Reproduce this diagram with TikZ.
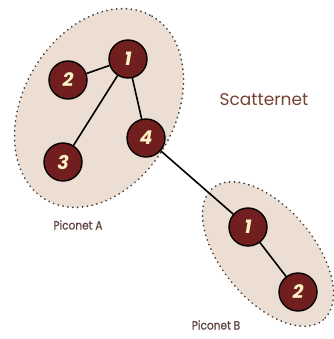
\documentclass[tikz,border=0pt]{standalone}
\usepackage{fontspec}
\setmainfont{Poppins}
\definecolor{netfill}{RGB}{236,222,211}
\definecolor{nodefill}{RGB}{112,30,30}
\definecolor{numcol}{RGB}{250,240,195}
\definecolor{labelcol}{RGB}{96,70,64}
\definecolor{titlecol}{RGB}{120,66,50}
\tikzset{
  piconet/.style={fill=netfill, draw=black!75, line width=1.9pt,
    dash pattern=on 0.1pt off 4.8pt, line cap=round},
  device/.style={circle, draw=black, line width=1.4pt, fill=nodefill,
    minimum size=38pt, inner sep=0pt, text=numcol,
    font=\fontsize{19}{19}\selectfont\bfseries\itshape},
  link/.style={draw=black, line width=1.6pt},
  netlabel/.style={text=labelcol, inner sep=0pt,
    font=\fontsize{12}{12}\selectfont\addfontfeatures{FakeStretch=0.88,FakeBold=0.8}}
}
\begin{document}
\begin{tikzpicture}[x=1pt, y=-1pt]
  \useasboundingbox (0,0) rectangle (333,339);
  % the two piconets
  \path[piconet] (99,108) ellipse[x radius=106, y radius=76, rotate=60];
  \path[piconet] (268,254) ellipse[x radius=86, y radius=46, rotate=-50];
  % devices
  \node[device] (a1) at (128,59) {1};
  \node[device] (a2) at (68,80) {2};
  \node[device] (a3) at (63,162) {3};
  \node[device] (a4) at (146,138) {4};
  \node[device] (b1) at (248,227) {1};
  \node[device] (b2) at (298,292) {2};
  % links
  \draw[link] (a2) -- (a1);
  \draw[link] (a1) -- (a3);
  \draw[link] (a1) -- (a4);
  \draw[link] (a4) -- (b1);
  \draw[link] (b1) -- (b2);
  % labels
  \node[netlabel] (la) at (78,225) {Piconet A};
  \node[netlabel] (lb) at (216,325) {Piconet B};
  \node[text=titlecol, font=\fontsize{17}{17}\selectfont, inner sep=0pt] (st) at (264,100) {Scatternet};
\end{tikzpicture}
\end{document}
